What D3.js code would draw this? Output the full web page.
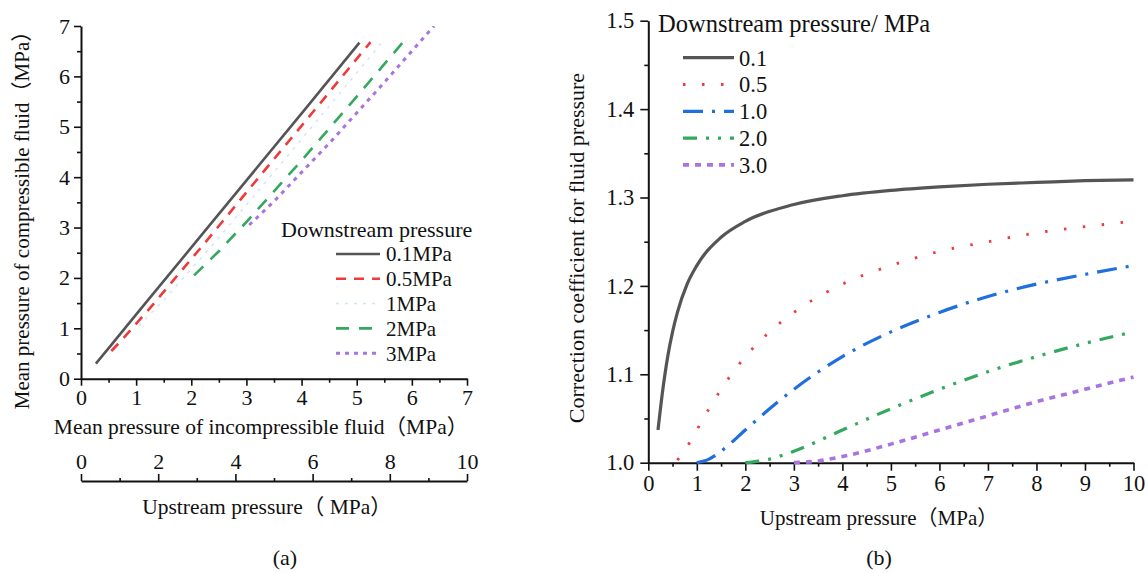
<!DOCTYPE html>
<html>
<head>
<meta charset="utf-8">
<script src="https://cdn.jsdelivr.net/npm/d3@7"></script>
<style>
  body { margin: 0; background: #fff; }
  svg text { font-family: "Liberation Serif", "Times New Roman", "Noto Sans CJK SC", serif; fill: #111; }
  .axis path, .axis line { stroke: #111; }
</style>
</head>
<body>
<svg id="chart" width="1148" height="573"></svg>
<script>
// (a) mean pressure, compressible vs incompressible  [x, y]
var legendA = ["0.1MPa", "0.5MPa", "1MPa", "2MPa", "3MPa"];
var meanP01 = [[0.27, 0.30], [0.55, 0.67], [1.05, 1.34], [2.05, 2.67], [3.05, 4.00], [4.05, 5.33], [5.05, 6.67]];
var meanP05 = [[0.55, 0.55], [0.75, 0.78], [1.25, 1.40], [2.25, 2.70], [3.25, 4.03], [4.25, 5.35], [5.25, 6.68]];
var meanP1  = [[1.05, 1.05], [1.50, 1.56], [2.50, 2.80], [3.50, 4.10], [4.50, 5.41], [5.50, 6.73]];
var meanP2  = [[2.05, 2.05], [2.50, 2.53], [3.00, 3.11], [4.00, 4.33], [5.00, 5.60], [5.84, 6.68]];
var meanP3  = [[3.05, 3.05], [3.50, 3.52], [4.50, 4.67], [5.50, 5.88], [6.40, 7.00]];

// (b) correction coefficient vs upstream pressure  [x, y]
var legendB = ["0.1", "0.5", "1.0", "2.0", "3.0"];
var coef01 = [[0.2, 1.037], [0.3, 1.083], [0.4, 1.120], [0.5, 1.148], [0.6, 1.170], [0.8, 1.202], [1.0, 1.223],
              [1.5, 1.255], [2, 1.273], [3, 1.292], [4, 1.302], [5, 1.308], [6, 1.312], [7, 1.315], [8, 1.317], [9, 1.319], [10, 1.320]];
var coef05 = [[0.6, 1.003], [0.8, 1.018], [1.0, 1.037], [1.25, 1.061], [1.5, 1.083], [2, 1.120], [2.5, 1.148], [3, 1.170],
              [4, 1.202], [5, 1.223], [6, 1.239], [7, 1.250], [8, 1.260], [9, 1.267], [10, 1.273]];
var coef1  = [[1.0, 1.000], [1.25, 1.004], [1.5, 1.013], [2, 1.037], [2.5, 1.061], [3, 1.083], [4, 1.120], [5, 1.148],
              [6, 1.170], [7, 1.188], [8, 1.202], [9, 1.213], [10, 1.223]];
var coef2  = [[2.0, 1.000], [2.5, 1.004], [3, 1.013], [4, 1.037], [5, 1.061], [6, 1.083], [7, 1.103], [8, 1.120], [9, 1.135], [10, 1.148]];
var coef3  = [[3.0, 1.000], [3.5, 1.002], [4, 1.007], [5, 1.021], [6, 1.037], [7, 1.053], [8, 1.069], [9, 1.083], [10, 1.097]];

var svg = d3.select("#chart");

var styles = [
    { color: "#555555", width: 2.6, dash: null },
    { color: "#f03a3a", width: 2.6, dash: "10,8" },
    { color: "#d4e3f6", width: 1.5, dash: "3,6" },
    { color: "#35a860", width: 2.6, dash: "13,10" },
    { color: "#a874e0", width: 3, dash: "4,5" }
];
var stylesB = [
    { color: "#555555", width: 3.2, dash: null },
    { color: "#f03a3a", width: 2.8, dash: "2.5,16.5" },
    { color: "#1f6fdc", width: 3.2, dash: "20,9,3,9" },
    { color: "#35a860", width: 3.2, dash: "14,9,3,9,3,9" },
    { color: "#a874e0", width: 3.6, dash: "6,6" }
];

// ---------- (a) ----------
var xA = d3.scaleLinear().domain([0, 7]).range([81, 467]);
var yA = d3.scaleLinear().domain([0, 7]).range([378.7, 26]);
var xUp = d3.scaleLinear().domain([0, 10]).range([81, 467]);

var gA = svg.append("g");

gA.append("defs").append("clipPath").attr("id", "clipA")
    .append("rect").attr("x", 81).attr("y", 26).attr("width", 386).attr("height", 353);

function minor(axis, vals, size) {
    return axis.tickValues(vals).tickSize(size).tickFormat("");
}

gA.append("g").attr("class", "axis").attr("transform", "translate(0,378.7)")
    .call(minor(d3.axisBottom(xA), d3.range(0.5, 7, 1), 4)).select(".domain").remove();
gA.append("g").attr("class", "axis").attr("transform", "translate(81,0)")
    .call(minor(d3.axisLeft(yA), d3.range(0.5, 7, 1), 4)).select(".domain").remove();

var axXA = gA.append("g").attr("class", "axis").attr("transform", "translate(0,378.7)")
    .call(d3.axisBottom(xA).ticks(7).tickSize(7).tickSizeOuter(0).tickPadding(4));
var axYA = gA.append("g").attr("class", "axis").attr("transform", "translate(81,0)")
    .call(d3.axisLeft(yA).ticks(7).tickSize(7).tickSizeOuter(0).tickPadding(4));

// upstream axis under (a)
gA.append("g").attr("class", "axis").attr("transform", "translate(0,481)")
    .call(minor(d3.axisTop(xUp), d3.range(1, 10, 2), 3)).select(".domain").remove();
var axUp = gA.append("g").attr("class", "axis").attr("transform", "translate(0,481)")
    .call(d3.axisTop(xUp).tickValues(d3.range(0, 11, 2)).tickSize(7).tickSizeOuter(0).tickPadding(5));

[axXA, axYA, axUp].forEach(function(a) {
    a.selectAll("text").style("font-size", "22px").style("font-family", null);
    a.select(".domain").attr("stroke-width", 2);
});
gA.selectAll(".axis line").attr("stroke-width", 1.6);

var lineA = d3.line().x(function(d) { return xA(d[0]); }).y(function(d) { return yA(d[1]); });
var seriesA = [meanP01, meanP05, meanP1, meanP2, meanP3];

gA.append("g").attr("clip-path", "url(#clipA)")
    .selectAll("path").data(seriesA).enter().append("path")
    .attr("d", lineA)
    .attr("fill", "none")
    .attr("stroke", function(d, i) { return styles[i].color; })
    .attr("stroke-width", function(d, i) { return styles[i].width; })
    .attr("stroke-dasharray", function(d, i) { return styles[i].dash; });

// legend (a)
gA.append("text").attr("x", 281).attr("y", 237).style("font-size", "22px").text("Downstream pressure");
var legA = gA.selectAll(".legA").data(legendA).enter().append("g")
    .attr("transform", function(d, i) { return "translate(0," + (254 + i * 24.8) + ")"; });
legA.append("line").attr("x1", 336).attr("x2", 380)
    .attr("stroke", function(d, i) { return styles[i].color; })
    .attr("stroke-width", function(d, i) { return styles[i].width; })
    .attr("stroke-dasharray", function(d, i) { return styles[i].dash; });
legA.append("text").attr("x", 386).attr("dy", "0.35em").style("font-size", "21px").text(function(d) { return d; });

gA.append("text").attr("x", 261).attr("y", 434).attr("text-anchor", "middle").style("font-size", "21.5px")
    .text("Mean pressure of incompressible fluid（MPa）");
gA.append("text").attr("transform", "translate(29,215) rotate(-90)").attr("text-anchor", "middle").style("font-size", "21px")
    .text("Mean pressure of compressible fluid（MPa）");
gA.append("text").attr("x", 267).attr("y", 514).attr("text-anchor", "middle").style("font-size", "21.5px")
    .text("Upstream pressure（  MPa）");
gA.append("text").attr("x", 285).attr("y", 565).attr("text-anchor", "middle").style("font-size", "22px").text("(a)");

// ---------- (b) ----------
var xB = d3.scaleLinear().domain([0, 10]).range([648.3, 1133.5]);
var yB = d3.scaleLinear().domain([1, 1.5]).range([462.7, 20.7]);
var gB = svg.append("g");

gB.append("g").attr("class", "axis").attr("transform", "translate(0,462.7)")
    .call(minor(d3.axisBottom(xB), d3.range(0.5, 10, 1), 4)).select(".domain").remove();
gB.append("g").attr("class", "axis").attr("transform", "translate(648.3,0)")
    .call(minor(d3.axisLeft(yB), [1.05, 1.15, 1.25, 1.35, 1.45], 4)).select(".domain").remove();

var axXB = gB.append("g").attr("class", "axis").attr("transform", "translate(0,462.7)")
    .call(d3.axisBottom(xB).ticks(10).tickSize(8).tickSizeOuter(0).tickPadding(4));
var axYB = gB.append("g").attr("class", "axis").attr("transform", "translate(648.3,0)")
    .call(d3.axisLeft(yB).tickValues([1.0, 1.1, 1.2, 1.3, 1.4, 1.5]).tickFormat(d3.format(".1f"))
        .tickSize(8).tickSizeOuter(0).tickPadding(6));
[axXB, axYB].forEach(function(a) {
    a.selectAll("text").style("font-size", "22.5px").style("font-family", null);
    a.select(".domain").attr("stroke-width", 2);
});
gB.selectAll(".axis line").attr("stroke-width", 1.6);

var lineB = d3.line().curve(d3.curveMonotoneX)
    .x(function(d) { return xB(d[0]); }).y(function(d) { return yB(d[1]); });
var seriesB = [coef01, coef05, coef1, coef2, coef3];

gB.append("g").selectAll("path").data(seriesB).enter().append("path")
    .attr("d", lineB)
    .attr("fill", "none")
    .attr("stroke", function(d, i) { return stylesB[i].color; })
    .attr("stroke-width", function(d, i) { return stylesB[i].width; })
    .attr("stroke-dasharray", function(d, i) { return stylesB[i].dash; });

// legend (b)
gB.append("text").attr("x", 658).attr("y", 32).style("font-size", "24.5px").text("Downstream pressure/ MPa");
var legB = gB.selectAll(".legB").data(legendB).enter().append("g")
    .attr("transform", function(d, i) { return "translate(0," + (57.7 + i * 26.8) + ")"; });
legB.append("line").attr("x1", 683).attr("x2", 734)
    .attr("stroke", function(d, i) { return stylesB[i].color; })
    .attr("stroke-width", function(d, i) { return stylesB[i].width; })
    .attr("stroke-dasharray", function(d, i) { return stylesB[i].dash; });
legB.append("text").attr("x", 739).attr("dy", "0.35em").style("font-size", "22.5px").text(function(d) { return d; });

gB.append("text").attr("x", 879).attr("y", 525).attr("text-anchor", "middle").style("font-size", "21px")
    .text("Upstream pressure（MPa）");
gB.append("text").attr("transform", "translate(584,248) rotate(-90)").attr("text-anchor", "middle").style("font-size", "22px")
    .text("Correction coefficient for fluid pressure");
gB.append("text").attr("x", 879).attr("y", 565).attr("text-anchor", "middle").style("font-size", "22px").text("(b)");
</script>
</body>
</html>
